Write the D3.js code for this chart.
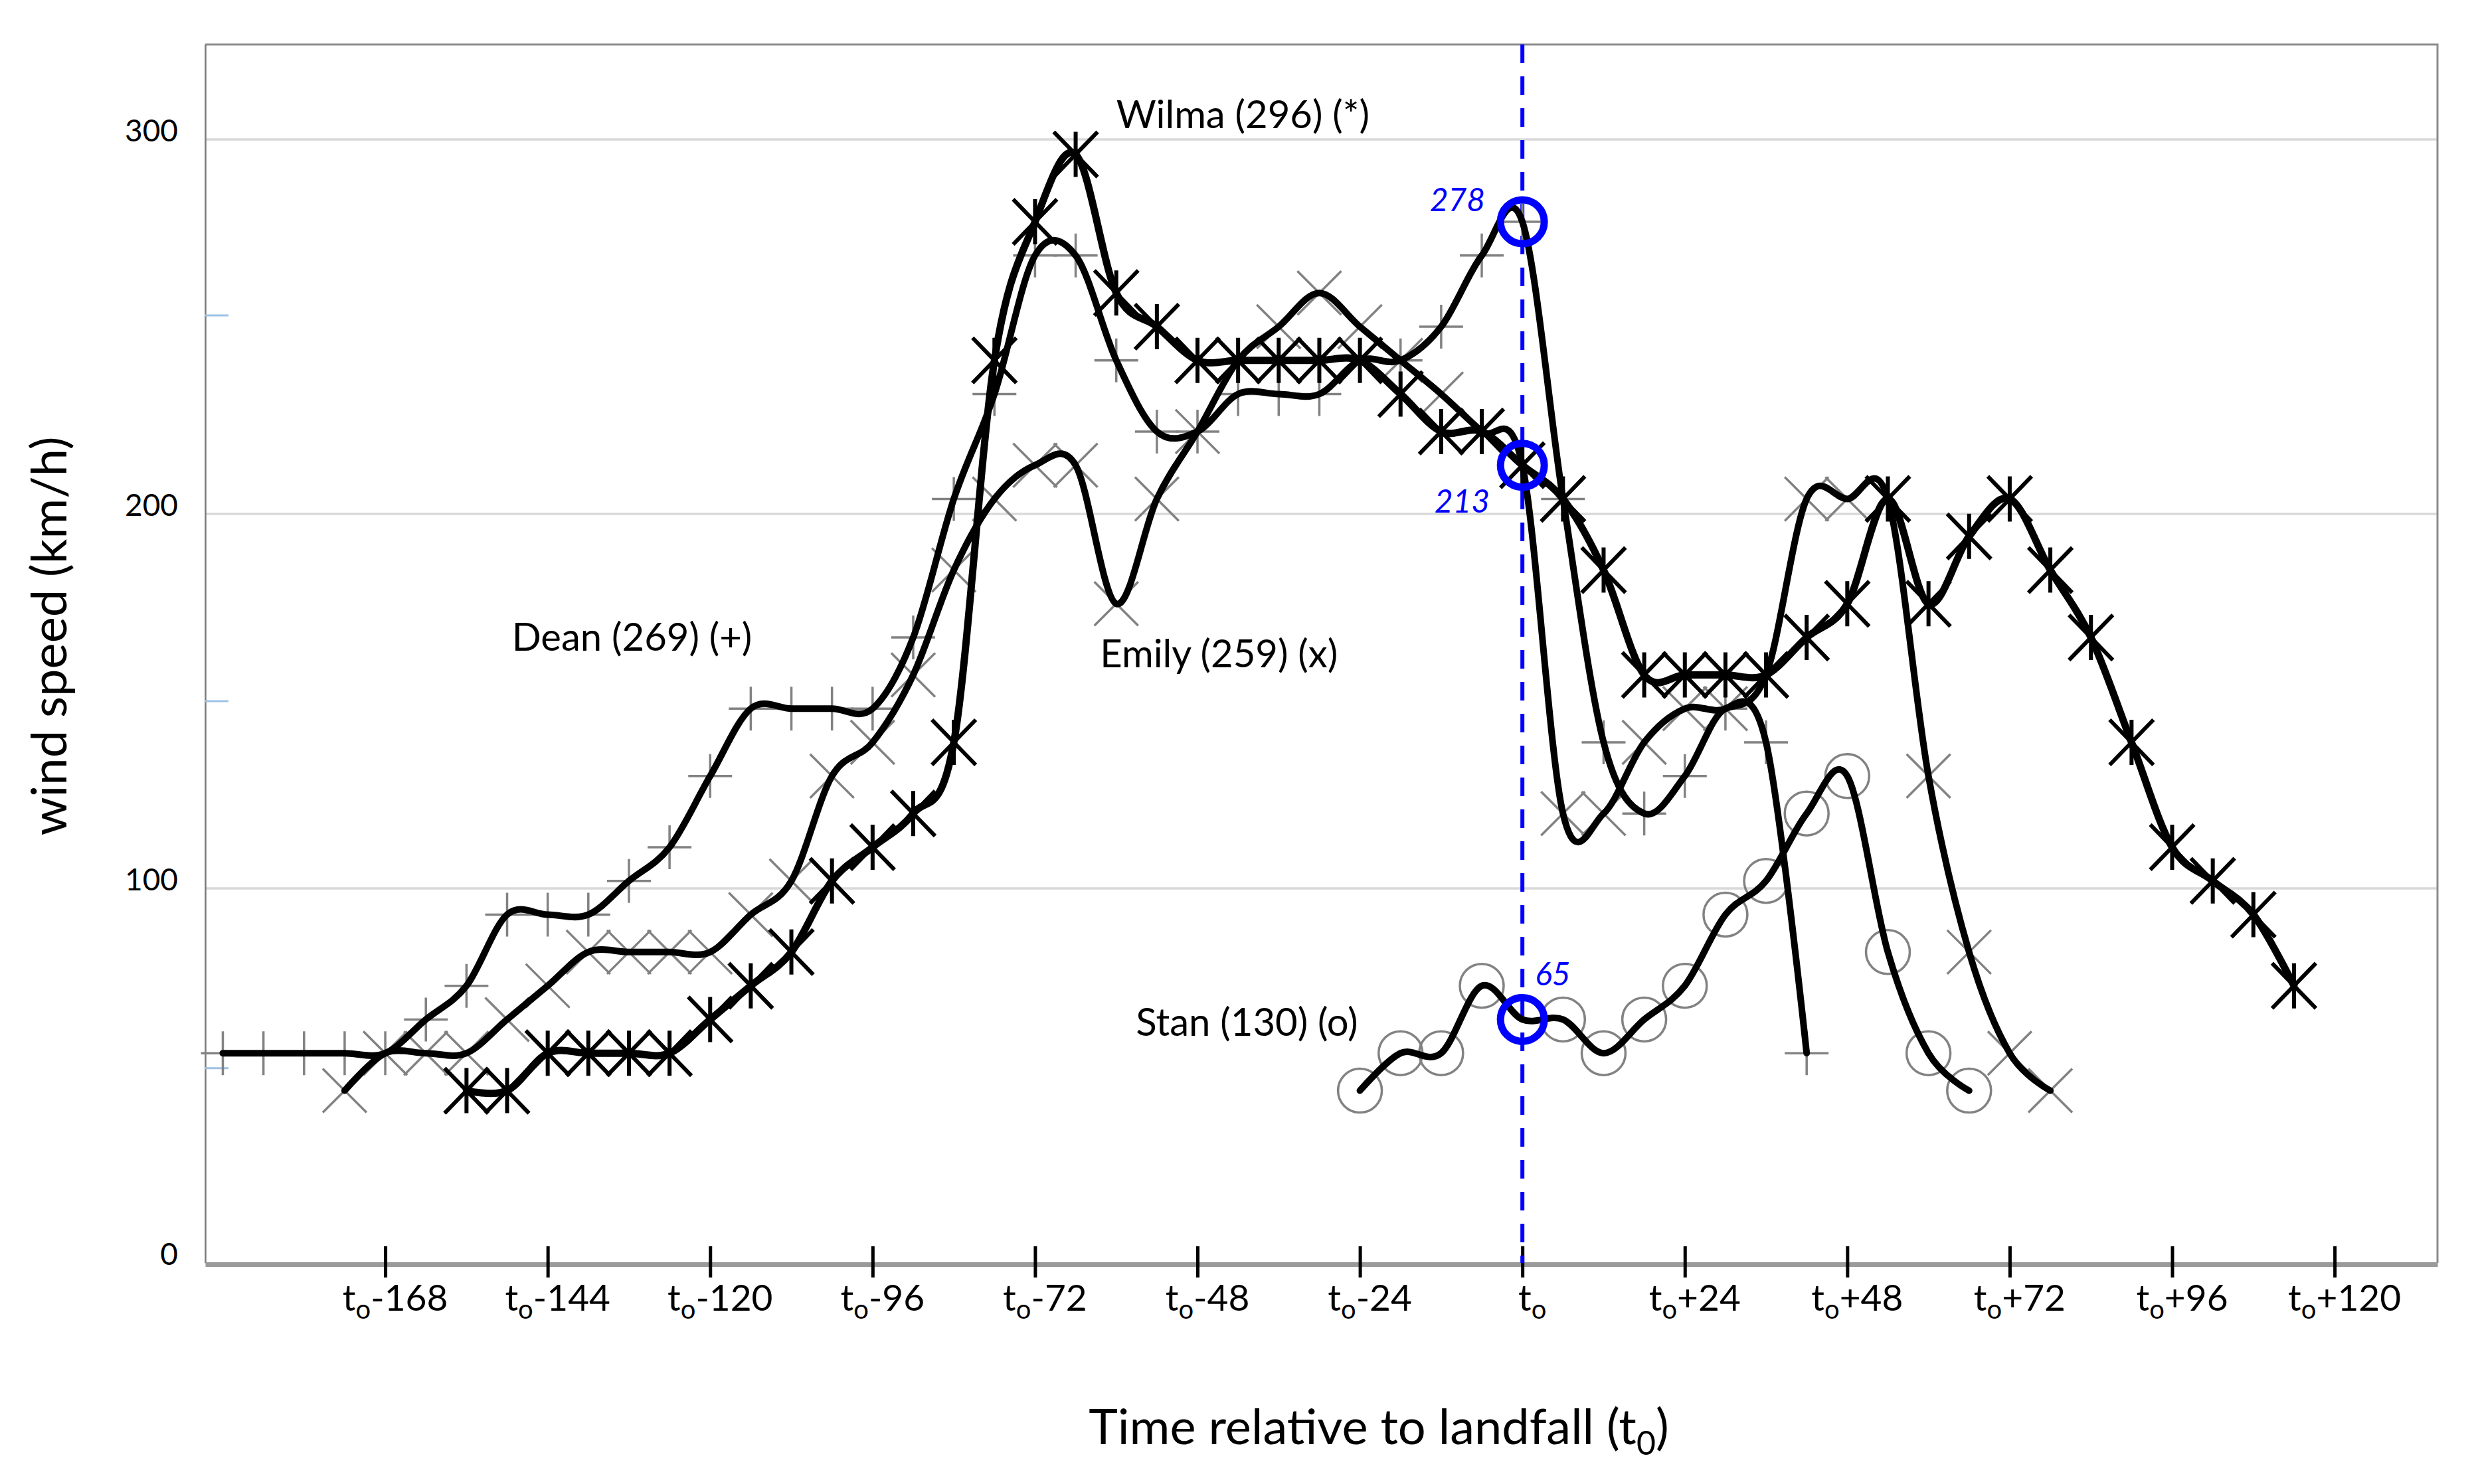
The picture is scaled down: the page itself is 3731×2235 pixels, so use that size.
<!DOCTYPE html>
<html>
<head>
<meta charset="utf-8">
<script src="https://cdn.jsdelivr.net/npm/d3@7"></script>
<style>
  html, body { margin: 0; padding: 0; background: #fff; }
  svg { display: block; font-family: Lato, "Open Sans", sans-serif; }
</style>
</head>
<body>
<div id="chart"></div>
<script>
// --- Data (km/h every 6 h, relative to landfall t0) ---
const hours = [-192, -186, -180, -174, -168, -162, -156, -150, -144, -138, -132, -126,
  -120, -114, -108, -102, -96, -90, -84, -78, -72, -66, -60, -54, -48, -42, -36, -30,
  -24, -18, -12, -6, 0, 6, 12, 18, 24, 30, 36, 42, 48, 54, 60, 66, 72, 78, 84, 90, 96,
  102, 108, 114];

const dean = [56, 56, 56, 56, 56, 65, 74, 93, 93, 93, 102, 111, 130, 148, 148, 148, 148,
  167, 204, 232, 269, 269, 241, 222, 222, 232, 232, 232, 241, 241, 250, 269, 278, 204,
  139, 120, 130, 148, 139, 56, ...Array(12).fill(null)];

const emily = [null, null, null, 46, 56, 56, 56, 65, 74, 83, 83, 83, 83, 93, 102, 130, 139,
  157, 185, 204, 213, 213, 176, 204, 222, 241, 250, 259, 250, 241, 232, 222, 213, 120,
  120, 139, 148, 148, 157, 204, 204, 204, 130, 83, 56, 46, ...Array(6).fill(null)];

const stan = [...Array(28).fill(null), 46, 56, 56, 74, 65, 65, 56, 65, 74, 93, 102, 120,
  130, 83, 56, 46, ...Array(8).fill(null)];

const wilma = [...Array(6).fill(null), 46, 46, 56, 56, 56, 56, 65, 74, 83, 102, 111, 120,
  139, 241, 278, 296, 259, 250, 241, 241, 241, 241, 241, 232, 222, 222, 213, 204, 185,
  157, 157, 157, 157, 167, 176, 204, 176, 194, 204, 185, 167, 139, 111, 102, 93, 74];

const stormNames = ["Dean (269) (+)", "Emily (259) (x)", "Stan (130) (o)", "Wilma (296) (*)"];
const landfallValues = [278, 213, 65];
const tickHours = [-168, -144, -120, -96, -72, -48, -24, 0, 24, 48, 72, 96, 120];
const yTicks = [0, 100, 200, 300];
const strayTicks = [253, 150, 52];

// --- Layout ---
const W = 3731, H = 2235;
const x = d3.scaleLinear().domain([-194.6, 135.2]).range([309, 3670]);
const y = d3.scaleLinear().domain([0, 325.35]).range([1902, 67]);
const GRAY = "#828282";

const svg = d3.select("#chart").append("svg")
  .attr("width", W).attr("height", H)
  .attr("viewBox", `0 0 ${W} ${H}`);

// gridlines
svg.append("g").selectAll("line")
  .data(yTicks.filter(d => d > 0))
  .join("line")
  .attr("x1", 309).attr("x2", 3670)
  .attr("y1", d => y(d)).attr("y2", d => y(d))
  .attr("stroke", "#d9d9d9").attr("stroke-width", 3.5);

// frame top / right
svg.append("path")
  .attr("d", `M309,${y.range()[1]}H3670V${y(0)}`)
  .attr("fill", "none").attr("stroke", "#8c8c8c").attr("stroke-width", 3);

// y axis
const yAxis = svg.append("g")
  .attr("transform", "translate(309,0)")
  .call(d3.axisLeft(y).tickValues(yTicks).tickSize(0).tickPadding(41).tickSizeOuter(0));
yAxis.select(".domain").attr("stroke", "#7a7a7a").attr("stroke-width", 2.5);
yAxis.selectAll(".tick text")
  .attr("font-size", 46).attr("font-family", "Lato").attr("fill", "#000").attr("dy", "0.05em");

// stray light-blue marks on the y axis
svg.append("g").selectAll("line")
  .data(strayTicks)
  .join("line")
  .attr("x1", 309).attr("x2", 344)
  .attr("y1", d => y(d)).attr("y2", d => y(d))
  .attr("stroke", "#9dc3e6").attr("stroke-width", 3);

// x axis
const xAxis = svg.append("g")
  .attr("transform", `translate(0,${y(0) + 2})`)
  .call(d3.axisBottom(x).tickValues(tickHours).tickSizeInner(20).tickSizeOuter(0).tickFormat(""));
xAxis.select(".domain").attr("stroke", "#9a9a9a").attr("stroke-width", 7);
xAxis.selectAll(".tick line").attr("y1", -27).attr("stroke", "#000").attr("stroke-width", 5);

const tickLabels = svg.append("g").attr("font-size", 55).attr("fill", "#000");
tickHours.forEach(h => {
  const t = tickLabels.append("text")
    .attr("x", x(h) + 15).attr("y", 1974).attr("text-anchor", "middle");
  t.append("tspan").text("t");
  t.append("tspan").attr("font-size", 40).attr("dy", 12).text("o");
  const suffix = h < 0 ? `${h}` : h > 0 ? `+${h}` : "";
  if (suffix) t.append("tspan").attr("dy", -12).text(suffix);
});

// axis titles
const xt = svg.append("text")
  .attr("x", 2076).attr("y", 2175).attr("text-anchor", "middle")
  .attr("font-size", 74).attr("fill", "#000");
xt.append("tspan").text("Time relative to landfall (t");
xt.append("tspan").attr("font-size", 50).attr("dy", 16).text("0");
xt.append("tspan").attr("dy", -16).text(")");

svg.append("text")
  .attr("transform", "translate(100,958) rotate(-90)")
  .attr("text-anchor", "middle")
  .attr("font-size", 74).attr("fill", "#000")
  .text("wind speed (km/h)");

// landfall dashed line
svg.append("line")
  .attr("x1", x(0)).attr("x2", x(0))
  .attr("y1", y.range()[1]).attr("y2", y(0))
  .attr("stroke", "#0000ff").attr("stroke-width", 6)
  .attr("stroke-dasharray", "28,20");

// --- Series ---
const toPoints = vals => hours.map((h, i) => ({ h, v: vals[i] })).filter(d => d.v != null);

const markerPaths = {
  plus: "M-33,0H33M0,-33V33",
  cross: "M-33,-33L33,33M-33,33L33,-33",
  star: "M-33,-34L33,34M-33,34L33,-34M0,-34V34"
};

const grayMarkers = svg.append("g").attr("fill", "none").attr("stroke", GRAY).attr("stroke-width", 3.5);
[[dean, "plus"], [emily, "cross"]].forEach(([vals, kind]) => {
  grayMarkers.append("g").selectAll("path")
    .data(toPoints(vals))
    .join("path")
    .attr("transform", d => `translate(${x(d.h)},${y(d.v)})`)
    .attr("d", markerPaths[kind]);
});
grayMarkers.append("g").selectAll("circle")
  .data(toPoints(stan))
  .join("circle")
  .attr("cx", d => x(d.h)).attr("cy", d => y(d.v)).attr("r", 33);

const line = d3.line()
  .x(d => x(d.h)).y(d => y(d.v))
  .curve(d3.curveCatmullRom.alpha(0));

const lines = svg.append("g").attr("fill", "none").attr("stroke", "#000")
  .attr("stroke-linecap", "round").attr("stroke-linejoin", "round");
[[dean, 10], [emily, 10], [stan, 10], [wilma, 11]].forEach(([vals, w]) => {
  lines.append("path").attr("d", line(toPoints(vals))).attr("stroke-width", w);
});

svg.append("g").attr("fill", "none").attr("stroke", "#000").attr("stroke-width", 6)
  .selectAll("path")
  .data(toPoints(wilma))
  .join("path")
  .attr("transform", d => `translate(${x(d.h)},${y(d.v)})`)
  .attr("d", markerPaths.star);

// landfall circles and values
svg.append("g").selectAll("circle")
  .data(landfallValues)
  .join("circle")
  .attr("cx", x(0)).attr("cy", d => y(d)).attr("r", 33)
  .attr("fill", "none").attr("stroke", "#0000ff").attr("stroke-width", 11);

const labelOffsets = [
  { dx: -56, dy: -16, anchor: "end" },
  { dx: -49, dy: 71, anchor: "end" },
  { dx: 19, dy: -51, anchor: "start" }
];
svg.append("g").selectAll("text")
  .data(landfallValues)
  .join("text")
  .attr("x", (d, i) => x(0) + labelOffsets[i].dx)
  .attr("y", (d, i) => y(d) + labelOffsets[i].dy)
  .attr("text-anchor", (d, i) => labelOffsets[i].anchor)
  .attr("font-size", 48).attr("font-style", "italic").attr("fill", "#0000ff")
  .text(d => d);

// storm labels (anchored in data units)
const stormAnchors = [[-149.3, 163.5], [-62.4, 159], [-57.1, 60.6], [-60, 303]];
svg.append("g").selectAll("text")
  .data(stormNames)
  .join("text")
  .attr("x", (d, i) => x(stormAnchors[i][0]))
  .attr("y", (d, i) => y(stormAnchors[i][1]))
  .attr("font-size", 58).attr("fill", "#000")
  .text(d => d);
</script>
</body>
</html>
